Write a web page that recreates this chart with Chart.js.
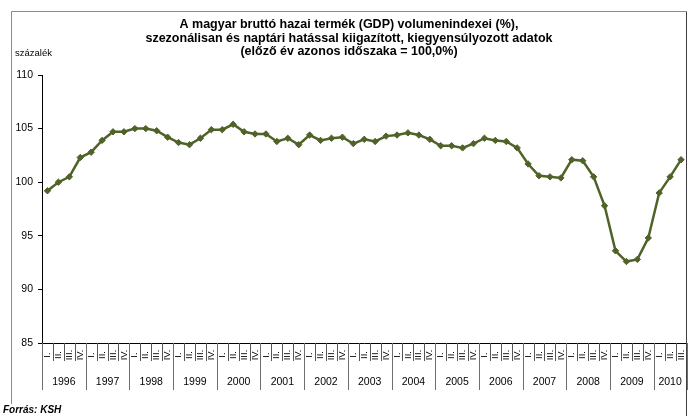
<!DOCTYPE html>
<html>
<head>
<meta charset="utf-8">
<script src="https://cdn.jsdelivr.net/npm/chart.js@4.4.0/dist/chart.umd.min.js"></script>
<style>
    html, body { margin: 0; padding: 0; background: #fff; }
    #wrap { width: 692px; height: 416px; position: relative; }
</style>
</head>
<body>
<div id="wrap"><canvas id="chart-1"></canvas></div>
<script>
const years = ['1996', '1997', '1998', '1999', '2000', '2001', '2002', '2003', '2004', '2005', '2006', '2007', '2008', '2009', '2010'];
const quarters = ['I.', 'II.', 'III.', 'IV.'];
const gdpIndex = [
    99.2, 100.0, 100.5, 102.3,
    102.8, 103.9, 104.7, 104.7,
    105.0, 105.0, 104.8, 104.2,
    103.7, 103.5, 104.1, 104.9,
    104.9, 105.4, 104.7, 104.5,
    104.5, 103.8, 104.1, 103.5,
    104.4, 103.9, 104.1, 104.2,
    103.6, 104.0, 103.8, 104.3,
    104.4, 104.6, 104.4, 104.0,
    103.4, 103.4, 103.2, 103.6,
    104.1, 103.9, 103.8, 103.2,
    101.7, 100.6, 100.5, 100.4,
    102.1, 102.0, 100.5, 97.8,
    93.6, 92.6, 92.8, 94.8,
    99.0, 100.5, 102.1
];
const yMin = 85;
const yMax = 110;
const yStep = 5;

const titleLines = [
    'A magyar bruttó hazai termék (GDP) volumenindexei (%),',
    'szezonálisan és naptári hatással kiigazított, kiegyensúlyozott adatok',
    '(előző év azonos időszaka = 100,0%)'
];
const yUnit = 'százalék';
const source = 'Forrás: KSH';

// kategóriák: év + negyedév
const labels = gdpIndex.map((v, i) => years[Math.floor(i / 4)] + ' ' + quarters[i % 4]);

const FONT = '"Liberation Sans", Arial, sans-serif';

const decor = {
    id: 'decor',
    afterDraw(chart) {
        const ctx = chart.ctx;
        const x = chart.scales.x;
        const area = chart.chartArea;
        const n = labels.length;
        const w = (area.right - area.left) / n;
        const axisY = area.bottom;
        ctx.save();

        // keret
        ctx.lineWidth = 1;
        ctx.strokeStyle = '#8c8c8c';
        ctx.beginPath();
        ctx.moveTo(11.5, 404);
        ctx.lineTo(11.5, 11.5);
        ctx.lineTo(686.5, 11.5);
        ctx.stroke();
        ctx.strokeStyle = '#404040';
        ctx.beginPath();
        ctx.moveTo(686.5, 11.5);
        ctx.lineTo(686.5, 416);
        ctx.stroke();

        // cím
        ctx.fillStyle = '#000';
        ctx.font = 'bold 12.5px ' + FONT;
        ctx.textAlign = 'center';
        ctx.textBaseline = 'middle';
        titleLines.forEach((t, i) => ctx.fillText(t, 349, 25 + i * 13.3));

        ctx.font = '9.5px ' + FONT;
        ctx.textAlign = 'left';
        ctx.fillText(yUnit, 15, 53);

        ctx.font = 'bold italic 10px ' + FONT;
        ctx.fillText(source, 3, 410);

        // x tengely: negyedév- és évelválasztók
        for (let k = 0; k <= n; k++) {
            const px = Math.round(area.left + k * w) + 0.5;
            const isYear = k % 4 === 0 || k === n;
            ctx.strokeStyle = isYear ? '#6e6e6e' : '#555';
            ctx.beginPath();
            ctx.moveTo(px, axisY);
            ctx.lineTo(px, isYear ? 390 : 361);
            ctx.stroke();
        }

        ctx.font = '9.5px ' + FONT;
        ctx.textAlign = 'center';
        ctx.textBaseline = 'middle';
        for (let i = 0; i < n; i++) {
            const cx = x.getPixelForValue(i);
            ctx.save();
            ctx.translate(cx, 355);
            ctx.rotate(-Math.PI / 2);
            ctx.fillText(quarters[i % 4], 0, 0);
            ctx.restore();
        }

        ctx.font = '10.5px ' + FONT;
        years.forEach((yr, j) => {
            const k0 = j * 4;
            const k1 = Math.min(k0 + 4, n);
            const cx = area.left + (k0 + k1) / 2 * w;
            ctx.fillText(yr, cx, 382);
        });

        ctx.restore();
    }
};

const ctx = document.getElementById('chart-1').getContext('2d');
new Chart(ctx, {
    type: 'line',
    data: {
        labels: labels,
        datasets: [{
            data: gdpIndex,
            borderColor: '#4f6228',
            backgroundColor: '#4f6228',
            borderWidth: 2.5,
            pointStyle: 'rectRot',
            pointRadius: 3.2,
            pointBorderWidth: 1,
            tension: 0
        }]
    },
    options: {
        responsive: true,
        maintainAspectRatio: false,
        animation: false,
        layout: { padding: { top: 75, right: 5.5, left: 0, bottom: 0 } },
        plugins: {
            legend: { display: false },
            tooltip: { enabled: false }
        },
        scales: {
            x: {
                offset: true,
                ticks: { display: false },
                grid: { display: false },
                border: { display: true, color: '#000', width: 1 },
                afterFit: (s) => { s.height = 73; }
            },
            y: {
                min: yMin,
                max: yMax,
                ticks: {
                    stepSize: yStep,
                    color: '#000',
                    padding: 5,
                    font: { family: FONT, size: 10.5 }
                },
                grid: { drawOnChartArea: false, tickLength: 4, color: '#000' },
                border: { display: true, color: '#000', width: 1 },
                afterFit: (s) => { s.width = 42; }
            }
        }
    },
    plugins: [decor]
});
</script>
</body>
</html>
